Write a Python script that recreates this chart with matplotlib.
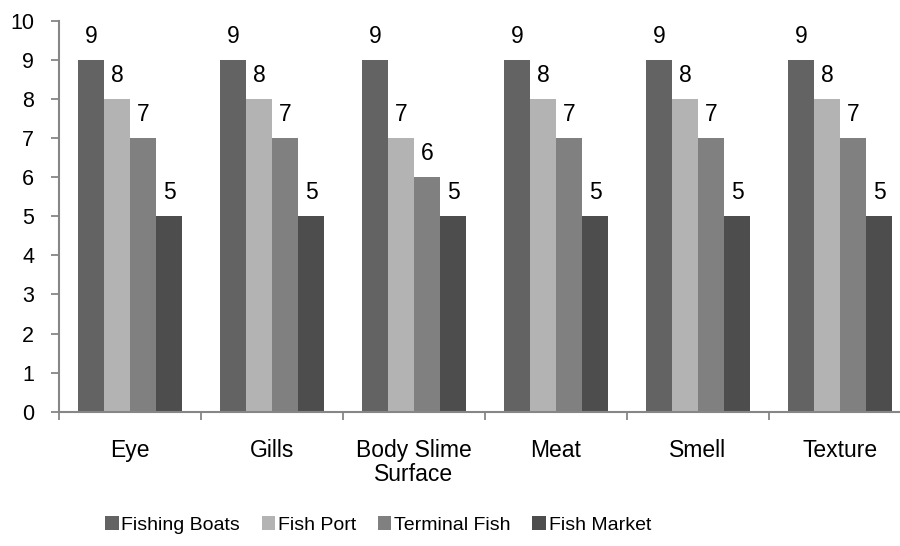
import matplotlib
matplotlib.use("Agg")
import matplotlib.pyplot as plt
import numpy as np
from matplotlib.patches import Patch

plt.rcParams['font.family'] = ['Liberation Sans', 'DejaVu Sans']

categories = ["Eye", "Gills", "Body Slime\nSurface", "Meat", "Smell", "Texture"]
series_names = ["Fishing Boats", "Fish Port", "Terminal Fish", "Fish Market"]
fishing_boats = [9, 9, 9, 9, 9, 9]
fish_port = [8, 8, 7, 8, 8, 8]
terminal_fish = [7, 7, 6, 7, 7, 7]
fish_market = [5, 5, 5, 5, 5, 5]
y_ticks = list(range(0, 11))

series = [fishing_boats, fish_port, terminal_fish, fish_market]
colors = ["#636363", "#b3b3b3", "#808080", "#4d4d4d"]
axis_gray = "#868686"

fig = plt.figure(figsize=(9, 5.46), dpi=100)
ax = fig.add_axes([59 / 900, 1 - 411.7 / 546, 852 / 900, 391 / 546])

n = len(categories)
x = np.arange(n) + 0.5
bw = 0.183
offsets = (np.arange(4) - 1.5) * bw

for vals, col, off in zip(series, colors, offsets):
    bars = ax.bar(x + off, vals, width=bw, color=col, edgecolor="none")
    for b, v in zip(bars, vals):
        ax.annotate(f"{v}", (b.get_x() + b.get_width() / 2, v),
                    xytext=(0, 8.5), textcoords="offset points",
                    ha="center", va="bottom", fontsize=16.5, color="#000000")

ax.set_xlim(0, n)
ax.set_ylim(0, 10)
ax.set_yticks(y_ticks)
ax.tick_params(axis="y", length=6, width=1.3, color=axis_gray, labelsize=15.5, pad=12)

# category boundaries as tick marks, names centred between them
ax.set_xticks(np.arange(n + 1))
ax.set_xticklabels([])
ax.set_xticks(x, minor=True)
ax.set_xticklabels(categories, minor=True, fontsize=16.5, linespacing=1.05)
ax.tick_params(axis="x", which="major", length=6, width=1.3, color=axis_gray)
ax.tick_params(axis="x", which="minor", length=0, pad=20)

for side in ("top", "right"):
    ax.spines[side].set_visible(False)
for side in ("left", "bottom"):
    ax.spines[side].set_color(axis_gray)
    ax.spines[side].set_linewidth(1.5)

handles = [Patch(facecolor=c, edgecolor="none") for c in colors]
fig.legend(handles, series_names, loc="center", bbox_to_anchor=(378 / 900, 1 - 525 / 546),
           ncol=4, frameon=False, handlelength=0.7, handleheight=0.7,
           handletextpad=0.15, columnspacing=1.1,
           prop={"family": ["Liberation Sans"], "size": 14})

fig.savefig("out.png", dpi=100)
